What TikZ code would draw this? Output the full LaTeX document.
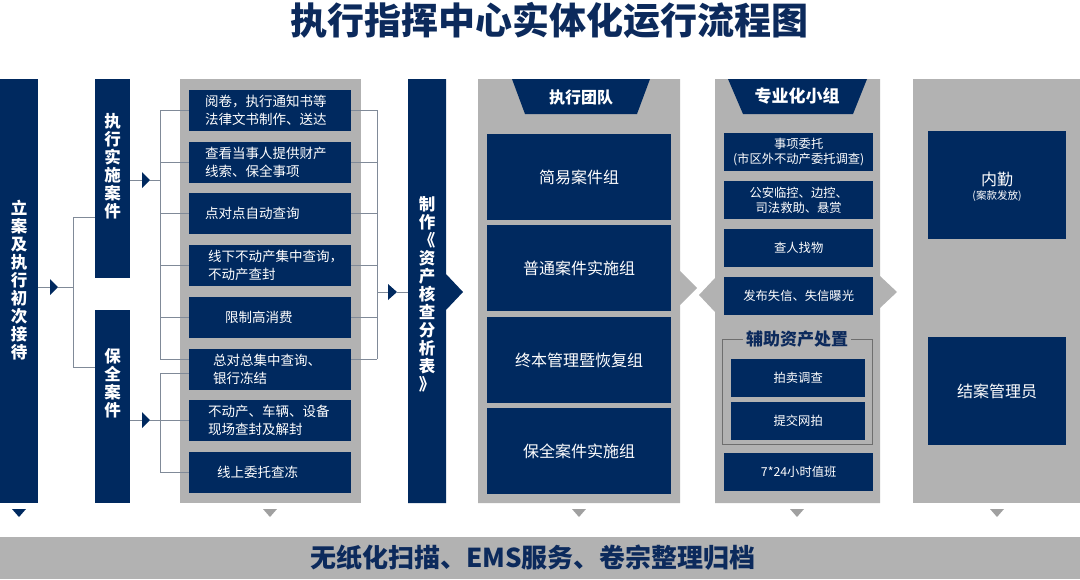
\documentclass[tikz,border=0pt]{standalone}
\usepackage{fontspec}
\setmainfont{Noto Sans CJK SC}
\definecolor{navy}{RGB}{0,41,95}
\definecolor{titlec}{RGB}{12,42,92}
\definecolor{panel}{RGB}{178,178,178}
\definecolor{connc}{RGB}{128,138,152}
\definecolor{framec}{RGB}{110,110,110}
\definecolor{downc}{RGB}{160,160,160}
\newcommand\myfs[2]{\fontsize{#1}{#2}\selectfont}
\begin{document}
\begin{tikzpicture}[x=1pt,y=-1pt,
  panelbox/.style={fill=panel,draw=none,inner sep=0,anchor=north west},
  nbox/.style={fill=navy,draw=none,inner sep=0,anchor=north west},
  vtext/.style={text=white,inner sep=0,align=center,font=\myfs{16.5}{18}\bfseries},
  wtext/.style={text=white,inner sep=0,align=left,anchor=west,font=\myfs{13.5}{18}},
  ctext/.style={text=white,inner sep=0,align=center,font=\myfs{16}{20}},
  stext/.style={text=white,inner sep=0,align=center,font=\myfs{12.3}{15.5}},
  conn/.style={draw=connc,line width=0.8pt},
  hdr/.style={text=white,inner sep=0,font=\myfs{16}{20}\bfseries}]
\useasboundingbox (0,0) rectangle (1080,579);

% title
\node[font=\myfs{37}{42}\bfseries,text=titlec,inner sep=0] (title) at (549,20) {执行指挥中心实体化运行流程图};

% ---------- column 1 ----------
\node[nbox,minimum width=38,minimum height=424] (L1) at (0,79) {};
\node[vtext] (L1t) at (19,280) {立\\案\\及\\执\\行\\初\\次\\接\\待};

\node[nbox,minimum width=35,minimum height=199] (E1) at (95,79) {};
\node[vtext] (E1t) at (112.5,166) {执\\行\\实\\施\\案\\件};
\node[nbox,minimum width=35,minimum height=193] (P1) at (95,310) {};
\node[vtext] (P1t) at (112.5,383) {保\\全\\案\\件};

\coordinate (t1) at (50,287);
\coordinate (br1) at (73,287);
\draw[conn] (L1.east |- t1) -- (t1);
\fill[navy] (50,279) -- (58,287) -- (50,295) -- cycle;
\draw[conn] (58,287) -- (br1);
\draw[conn] (73,217) -- (73,367);
\draw[conn] (73,217) -- (E1.west |- 0,217);
\draw[conn] (73,367) -- (P1.west |- 0,367);

% ---------- column 2 ----------
\node[panelbox,minimum width=181,minimum height=424] (C2) at (180,79) {};

% left brackets
\draw[conn] (E1.east |- 0,180) -- (142,180);
\fill[navy] (142,172) -- (150,180) -- (142,188) -- cycle;
\draw[conn] (150,180) -- (160,180);
\draw[conn] (160,110) -- (160,359);
\foreach \yy in {110,162,213,265,317,359} \draw[conn] (160,\yy) -- (189,\yy);
\draw[conn] (P1.east |- 0,420) -- (142,420);
\fill[navy] (142,412) -- (150,420) -- (142,428) -- cycle;
\draw[conn] (150,420) -- (160,420);
\draw[conn] (160,373) -- (160,472);
\foreach \yy in {373,420,472} \draw[conn] (160,\yy) -- (189,\yy);

% right bracket
\foreach \yy in {110,162,213,265,317,359} \draw[conn] (351,\yy) -- (377,\yy);
\draw[conn] (377,110) -- (377,359);
\draw[conn] (377,292) -- (388,292);
\fill[navy] (388,284) -- (397,292) -- (388,300) -- cycle;

\node[nbox,minimum width=162,minimum height=41] (b1) at (189,90) {};
\node[nbox,minimum width=162,minimum height=41] (b2) at (189,142) {};
\node[nbox,minimum width=162,minimum height=41] (b3) at (189,193) {};
\node[nbox,minimum width=162,minimum height=41] (b4) at (189,245) {};
\node[nbox,minimum width=162,minimum height=41] (b5) at (189,297) {};
\node[nbox,minimum width=162,minimum height=41] (b6) at (189,349) {};
\node[nbox,minimum width=162,minimum height=41] (b7) at (189,400) {};
\node[nbox,minimum width=162,minimum height=41] (b8) at (189,452) {};
\node[wtext] (b1t) at (205,110.5) {阅卷，执行通知书等\\法律文书制作、送达};
\node[wtext] (b2t) at (205,162.5) {查看当事人提供财产\\线索、保全事项};
\node[wtext] (b3t) at (205,213.5) {点对点自动查询};
\node[wtext] (b4t) at (208,265.5) {线下不动产集中查询，\\不动产查封};
\node[wtext] (b5t) at (225,317.5) {限制高消费};
\node[wtext] (b6t) at (213,369.5) {总对总集中查询、\\银行冻结};
\node[wtext] (b7t) at (208,420.5) {不动产、车辆、设备\\现场查封及解封};
\node[wtext] (b8t) at (217,472.5) {线上委托查冻};

% ---------- column 3 ----------
\fill[navy] (408,79) -- (446,79) -- (446,274) -- (463,292) -- (446,310) -- (446,503) -- (408,503) -- cycle;
\coordinate (C3) at (408,292);
\draw[conn] (397,292) -- (C3);
\node[vtext] (C3t) at (427,294) {制\\作\\《\\资\\产\\核\\查\\分\\析\\表\\》};

% ---------- column 4 ----------
\fill[panel] (478,79) -- (680,79) -- (680,271) -- (697,288) -- (680,305) -- (680,503) -- (478,503) -- cycle;
\fill[navy] (512,79) -- (650,79) -- (637,114) -- (525,114) -- cycle;
\node[hdr] (h4) at (581,97) {执行团队};
\node[nbox,minimum width=184,minimum height=86] (g1) at (487,134) {};
\node[nbox,minimum width=184,minimum height=86] (g2) at (487,225) {};
\node[nbox,minimum width=184,minimum height=86] (g3) at (487,317) {};
\node[nbox,minimum width=184,minimum height=86] (g4) at (487,408) {};
\node[ctext] (g1t) at (g1.center) {简易案件组};
\node[ctext] (g2t) at (g2.center) {普通案件实施组};
\node[ctext] (g3t) at (g3.center) {终本管理暨恢复组};
\node[ctext] (g4t) at (g4.center) {保全案件实施组};

% ---------- column 5 ----------
\fill[panel] (715,79) -- (880,79) -- (880,276) -- (897,292) -- (880,308) -- (880,503) -- (715,503) -- (715,312) -- (699,295) -- (715,278) -- cycle;
\fill[navy] (728,79) -- (867,79) -- (853,114) -- (743,114) -- cycle;
\node[hdr,font=\myfs{17}{20}\bfseries] (h5) at (797,96) {专业化小组};
\node[nbox,minimum width=149,minimum height=38] (s1) at (724,133) {};
\node[nbox,minimum width=149,minimum height=38] (s2) at (724,181) {};
\node[nbox,minimum width=149,minimum height=38] (s3) at (724,229) {};
\node[nbox,minimum width=149,minimum height=38] (s4) at (724,277) {};
\node[stext] (s1t) at (s1.center) {事项委托\\(市区外不动产委托调查)};
\node[stext] (s2t) at (s2.center) {公安临控、边控、\\司法救助、悬赏};
\node[stext] (s3t) at (s3.center) {查人找物};
\node[stext] (s4t) at (s4.center) {发布失信、失信曝光};
\draw[draw=framec,line width=0.7pt] (722,339) rectangle (872,444);
\node[fill=panel,text=titlec,inner xsep=3pt,inner ysep=0,font=\myfs{17}{20}\bfseries] (grp) at (797,339) {辅助资产处置};
\node[nbox,minimum width=134,minimum height=38] (a1) at (731,359) {};
\node[nbox,minimum width=134,minimum height=38] (a2) at (731,402) {};
\node[nbox,minimum width=149,minimum height=38] (s7) at (724,453) {};
\node[stext] (a1t) at (a1.center) {拍卖调查};
\node[stext] (a2t) at (a2.center) {提交网拍};
\node[stext] (s7t) at (s7.center) {7*24小时值班};

% ---------- column 6 ----------
\node[panelbox,minimum width=167,minimum height=424] (C6) at (913,79) {};
\node[nbox,minimum width=138,minimum height=108] (r1) at (928,131) {};
\node[nbox,minimum width=138,minimum height=108] (r2) at (928,337) {};
\node[ctext] (r1t) at (997,179) {内勤};
\node[text=white,inner sep=0,font=\myfs{10.5}{12}] (r1s) at (997,196) {(案款发放)};
\node[ctext] (r2t) at (r2.center) {结案管理员};

% ---------- down markers ----------
\fill[navy] (12,509) -- (26,509) -- (19,517) -- cycle;
\foreach \xx in {270,579,797,997} \fill[downc] (\xx-7,509) -- (\xx+7,509) -- (\xx,517) -- cycle;

% ---------- bottom bar ----------
\node[panelbox,minimum width=1080,minimum height=42] (bar) at (0,537) {};
\node[text=titlec,inner sep=0,font=\myfs{26}{30}\bfseries] (bart) at (533,558) {无纸化扫描、EMS服务、卷宗整理归档};
\end{tikzpicture}
\end{document}
